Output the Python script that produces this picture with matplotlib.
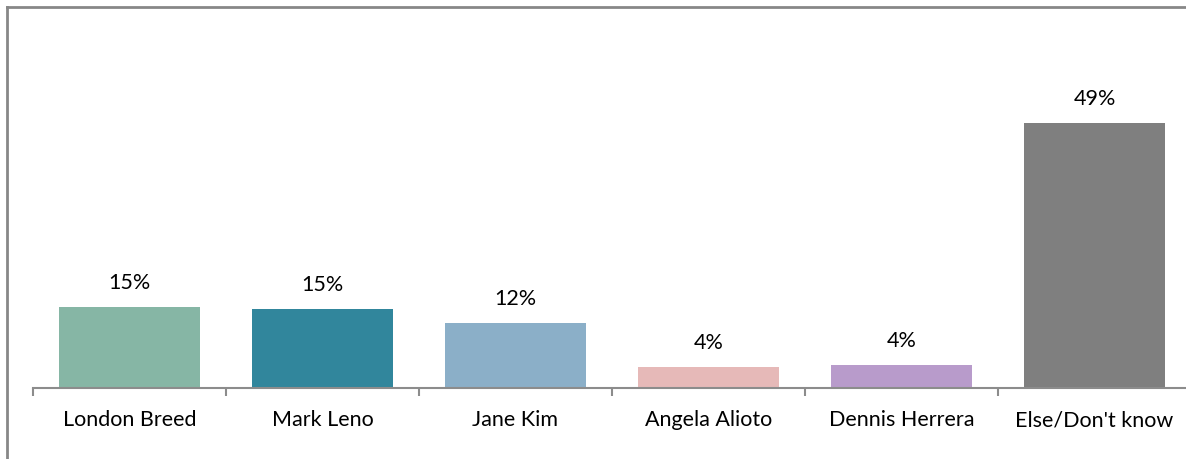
import numpy as np
import matplotlib
matplotlib.use("Agg")
from matplotlib import pyplot as plt
from matplotlib.lines import Line2D

# data
candidates = ["London Breed", "Mark Leno", "Jane Kim", "Angela Alioto", "Dennis Herrera", "Else/Don't know"]
shares = [15.0, 14.6, 12.0, 3.9, 4.3, 49.0]
share_labels = ["15%", "15%", "12%", "4%", "4%", "49%"]
bar_colors = ["#86B6A5", "#31869C", "#8BAFC8", "#E6B9B8", "#B89BCB", "#7F7F7F"]

plt.rcParams["font.family"] = ["Lato", "DejaVu Sans"]

W, H = 1186, 459
fig = plt.figure(figsize=(W / 100, H / 100), dpi=100)

# axes placed in pixel terms: baseline at y=388, categories from x=33 to ~1191
left, right = 33, 1191
base_y = 388
ymax = 55
px_per_unit = 265 / 49.0
top_y = base_y - ymax * px_per_unit
ax = fig.add_axes([left / W, (H - base_y) / H, (right - left) / W, (base_y - top_y) / H])

x = np.arange(len(candidates))
ax.bar(x, shares, width=0.735, color=bar_colors, zorder=2)

for xi, v, lab in zip(x, shares, share_labels):
    ax.annotate(lab, (xi, v), xytext=(0, 17), textcoords="offset points",
                ha="center", va="center", fontsize=15.5, color="#000000")

ax.set_xlim(-0.5, len(candidates) - 0.5)
ax.set_ylim(0, ymax)
ax.set_yticks([])
for s in ["top", "right", "left"]:
    ax.spines[s].set_visible(False)
ax.spines["bottom"].set_color("#8C8C8C")
ax.spines["bottom"].set_linewidth(1.5)

ax.set_xticks(x)
ax.set_xticklabels(candidates, fontsize=15.5)
ax.tick_params(axis="x", which="major", length=0, pad=16)
ax.set_xticks(np.arange(len(candidates) + 1) - 0.5, minor=True)
ax.tick_params(axis="x", which="minor", length=6, width=1.5, color="#8C8C8C", direction="out")

# chart-area border: only top and left edges are inside the picture
bx, by = 7 / W, 1 - 7 / H
fig.add_artist(Line2D([bx, 1.0], [by, by], transform=fig.transFigure, color="#878787", linewidth=2))
fig.add_artist(Line2D([bx, bx], [0, by], transform=fig.transFigure, color="#878787", linewidth=2))

fig.savefig("out.png", dpi=100, facecolor="white")
